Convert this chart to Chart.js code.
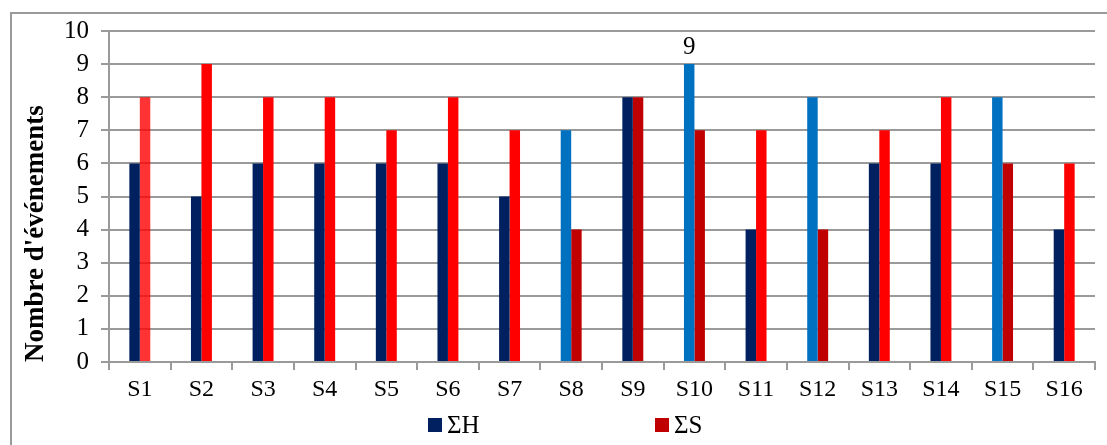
<!DOCTYPE html>
<html>
<head>
<meta charset="utf-8">
<script src="https://cdn.jsdelivr.net/npm/chart.js@4/dist/chart.umd.min.js"></script>
<style>
  html, body { margin: 0; padding: 0; background: #fff; }
  #wrap { position: relative; width: 1107px; height: 445px; overflow: hidden; }
  #frame { position: absolute; left: 10px; top: 12px; width: 1200px; height: 500px;
           border-top: 2px solid #9a9a9a; border-left: 2px solid #9a9a9a; }
  canvas { position: absolute; left: 0; top: 0; }
</style>
</head>
<body>
<div id="wrap">
  <div id="frame"></div>
  <canvas id="chart" width="1107" height="445"></canvas>
</div>
<script>
// Sessions and counts per session
const categories = ['S1', 'S2', 'S3', 'S4', 'S5', 'S6', 'S7', 'S8',
                    'S9', 'S10', 'S11', 'S12', 'S13', 'S14', 'S15', 'S16'];
const sumH = [6, 5, 6, 6, 6, 6, 5, 7, 8, 9, 4, 8, 6, 6, 8, 4];
const sumS = [8, 9, 8, 8, 7, 8, 7, 4, 8, 7, 7, 4, 7, 8, 6, 6];
const seriesNames = ['ΣH', 'ΣS'];
const yMin = 0, yMax = 10, yStep = 1;
// Sessions whose ΣH bar carries its value
const labelledH = ['S10'];

// Palette
const NAVY = '#002060';
const BLUE = '#0070C0';
const RED = '#FF0000';
const RED_SOFT = 'rgba(255, 0, 0, 0.8)';
const DARK_RED = '#C00000';
const hColors = [NAVY, NAVY, NAVY, NAVY, NAVY, NAVY, NAVY, BLUE,
                 NAVY, BLUE, NAVY, BLUE, NAVY, NAVY, BLUE, NAVY];
const sColors = [RED_SOFT, RED, RED, RED, RED, RED, RED, DARK_RED,
                 DARK_RED, DARK_RED, RED, DARK_RED, RED, RED, DARK_RED, RED];
const legendColors = [NAVY, DARK_RED];

const FONT = '"Liberation Serif", "Times New Roman", serif';
const GRID = '#9a9a9a';

// Value written above selected bars
const valueLabels = {
  id: 'valueLabels',
  afterDatasetsDraw(chart) {
    const ctx = chart.ctx;
    const meta = chart.getDatasetMeta(0);
    ctx.save();
    ctx.font = '25px ' + FONT;
    ctx.fillStyle = '#000';
    ctx.textAlign = 'center';
    ctx.textBaseline = 'alphabetic';
    labelledH.forEach(cat => {
      const i = categories.indexOf(cat);
      const bar = meta.data[i];
      ctx.fillText(String(sumH[i]), bar.x, bar.y - 10);
    });
    ctx.restore();
  }
};

// Legend spread along the bottom edge
const bottomLegend = {
  id: 'bottomLegend',
  afterDraw(chart) {
    const ctx = chart.ctx;
    const slots = [428, 655];
    ctx.save();
    ctx.font = '25px ' + FONT;
    ctx.textBaseline = 'alphabetic';
    ctx.textAlign = 'left';
    chart.data.datasets.forEach((ds, i) => {
      const x = slots[i];
      ctx.fillStyle = legendColors[i];
      ctx.fillRect(x, 418, 14, 14);
      ctx.fillStyle = '#000';
      ctx.fillText(ds.label, x + 19, 433);
    });
    ctx.restore();
  }
};

new Chart(document.getElementById('chart'), {
  type: 'bar',
  data: {
    labels: categories,
    datasets: [
      { label: seriesNames[0], data: sumH, backgroundColor: hColors, borderWidth: 0,
        categoryPercentage: 0.34, barPercentage: 1 },
      { label: seriesNames[1], data: sumS, backgroundColor: sColors, borderWidth: 0,
        categoryPercentage: 0.34, barPercentage: 1 }
    ]
  },
  options: {
    responsive: false,
    animation: false,
    devicePixelRatio: 1,
    layout: { padding: { left: 10, right: 12, top: 31, bottom: 35 } },
    plugins: {
      legend: { display: false },
      tooltip: { enabled: false }
    },
    scales: {
      x: {
        grid: { offset: true, drawOnChartArea: false, color: GRID, lineWidth: 2, tickLength: 8 },
        border: { color: GRID, width: 2 },
        ticks: { color: '#000', font: { family: FONT, size: 24 }, padding: 5,
                 maxRotation: 0, autoSkip: false },
        afterFit(scale) { scale.height = 48; }
      },
      y: {
        min: yMin,
        max: yMax,
        grid: { color: GRID, lineWidth: 2, tickLength: 8 },
        border: { color: GRID, width: 2 },
        ticks: { stepSize: yStep, color: '#000', font: { family: FONT, size: 25 }, padding: 12 },
        title: {
          display: true,
          text: "Nombre d'événements",
          align: 'start',
          color: '#000',
          font: { family: FONT, size: 27, weight: 'bold' },
          padding: { top: 10, bottom: 0 }
        },
        afterFit(scale) { scale.width = 99; }
      }
    }
  },
  plugins: [valueLabels, bottomLegend]
});
</script>
</body>
</html>
